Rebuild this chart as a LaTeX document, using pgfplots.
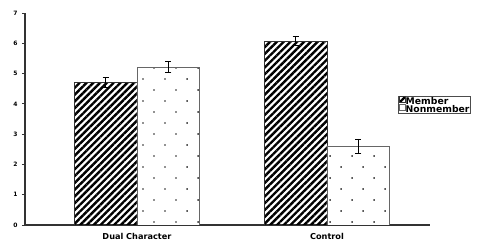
\documentclass[border=0pt]{standalone}
\usepackage{fontspec}
\setmainfont{DejaVu Sans}
\usepackage{pgfplots}
\pgfplotsset{compat=1.18}
\usetikzlibrary{patterns.meta}
\begin{document}
\begin{tikzpicture}
\begin{axis}[
  at={(0,0)}, anchor=south west,
  scale only axis, width=405bp, height=212bp,
  xmin=-0.589, xmax=1.542, ymin=0, ymax=7,
  axis x line*=bottom, axis y line*=left,
  axis line style={black!80, line width=1.2bp},
  ybar=0pt, bar width=0.33,
  xtick={0,1}, xticklabels={Dual Character, Control},
  x tick style={draw=none},
  extra x ticks={1.542}, extra x tick labels={},
  extra x tick style={tick style={draw=black!80, line width=1bp}, major tick length=3bp},
  ytick={0,1,2,3,4,5,6,7},
  y tick style={black!80, line width=0.8bp},
  tick align=outside, major tick length=3bp,
  /pgf/number format/assume math mode=true,
  yticklabel style={font=\bfseries\fontsize{6}{6}\selectfont, xshift=-1bp},
  xticklabel style={font=\bfseries\fontsize{8.2}{9}\selectfont, yshift=-2bp},
  legend style={at={(0.921,0.61)}, anchor=north west, draw=black!70, line width=0.6bp,
    inner sep=0.5bp, font=\bfseries\fontsize{9.3}{9.3}\selectfont, row sep=-0.5bp,
    nodes={inner sep=0.4bp, text height=6.6bp, text depth=0bp},
    /tikz/every even column/.append style={column sep=1bp}},
  legend cell align=left,
  legend image code/.code={\draw[#1, line width=0.5bp] (0bp,-1.6bp) rectangle (6bp,4.4bp);},
  error bars/error bar style={black, line width=0.6bp},
  error bars/error mark options={rotate=90, mark size=3bp, line width=0.6bp, black},
]
\addplot[draw=black!80, line width=0.5bp, pattern={Lines[angle=45, distance=4.8bp, line width=2.4bp]}, pattern color=black,
  error bars/.cd, y dir=both, y explicit]
  coordinates {(0,4.72) +- (0,0.16) (1,6.07) +- (0,0.15)};
\addlegendentry{Member}
\addplot[draw=black!60, line width=0.6bp, fill=white, postaction={pattern={Dots[distance=15.56bp, angle=45, radius=1bp]}, pattern color=black},
  error bars/.cd, y dir=both, y explicit]
  coordinates {(0,5.22) +- (0,0.17) (1,2.61) +- (0,0.23)};
\addlegendentry{Nonmember}
\end{axis}
\path[use as bounding box] (-25bp,-19bp) rectangle (457bp,225bp);
\end{tikzpicture}
\end{document}
